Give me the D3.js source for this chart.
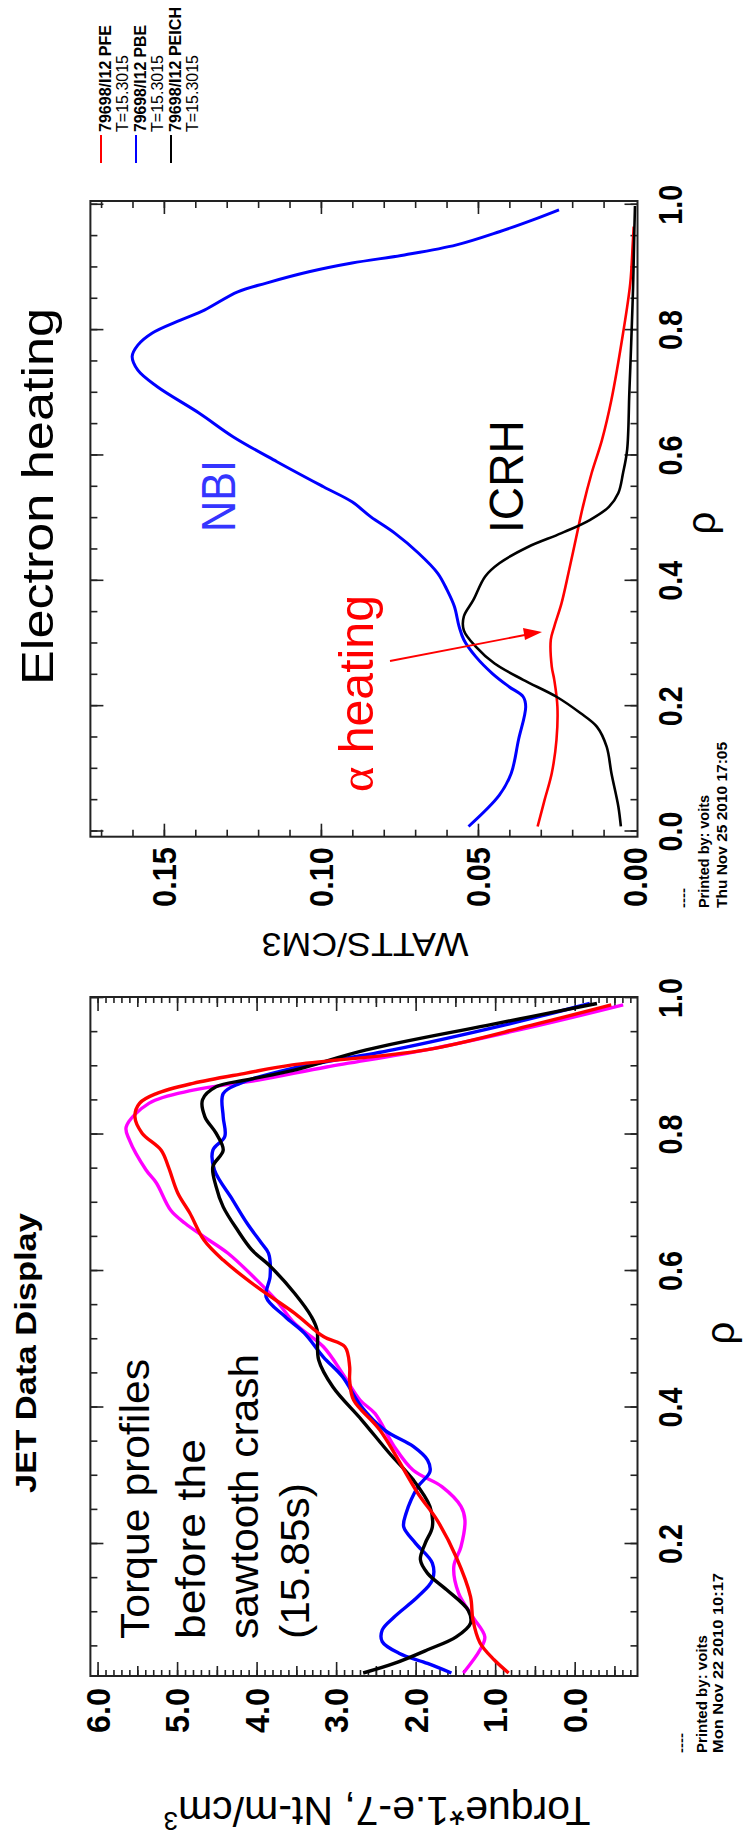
<!DOCTYPE html>
<html>
<head>
<meta charset="utf-8">
<script src="https://cdn.jsdelivr.net/npm/d3@7"></script>
<style>
  body { margin: 0; background: #fff; }
  svg { display: block; }
</style>
</head>
<body>
<svg id="fig" width="746" height="1843"></svg>
<script>
// --- electron heating panel (WATTS/CM3 vs rho) ---
const rhoPFE = [0.008,0.050,0.093,0.146,0.199,0.242,0.263,0.306,0.327,0.364,0.412,0.465,0.518,0.572,0.625,0.689,0.795,0.875,0.939,0.965];
const wattsPFE = [0.031,0.0288,0.0265,0.025,0.0247,0.0257,0.0265,0.0268,0.0257,0.0234,0.0212,0.0189,0.0166,0.0138,0.0105,0.0075,0.0038,0.0015,0.0007,0.0004];

const rhoPBE = [0.008,0.058,0.093,0.146,0.199,0.215,0.231,0.252,0.279,0.306,0.327,0.359,0.385,0.412,0.444,0.476,0.502,0.526,0.550,0.590,0.630,0.667,0.710,0.736,0.758,0.776,0.795,0.816,0.832,0.861,0.875,0.893,0.907,0.920,0.936,0.957,0.976,0.992];
const wattsPBE = [0.053,0.0432,0.0394,0.0371,0.0348,0.0356,0.0401,0.0454,0.0507,0.0545,0.056,0.0575,0.0598,0.0628,0.0689,0.0765,0.0841,0.0901,0.0992,0.114,0.128,0.1386,0.1522,0.1583,0.1601,0.1583,0.1538,0.1447,0.1371,0.1265,0.1174,0.1038,0.0901,0.0734,0.0568,0.0432,0.0325,0.0242];

const rhoPEICH = [0.008,0.040,0.093,0.135,0.167,0.189,0.215,0.242,0.268,0.295,0.321,0.343,0.369,0.407,0.428,0.454,0.476,0.497,0.518,0.540,0.572,0.609,0.70,0.78,0.87,0.96,0.998];
const wattsPEICH = [0.0045,0.0053,0.0075,0.009,0.0121,0.0174,0.025,0.0356,0.0447,0.0507,0.0545,0.0545,0.0515,0.0477,0.0432,0.0341,0.0234,0.0144,0.0083,0.0053,0.0038,0.0025,0.0018,0.0012,0.0006,0.0002,0.0];

// --- torque panel (Torque*1.e-7 vs rho) ---
const rhoRed = [0.011,0.030,0.055,0.089,0.123,0.181,0.235,0.274,0.367,0.411,0.440,0.460,0.489,0.504,0.538,0.577,0.616,0.645,0.685,0.714,0.753,0.777,0.802,0.826,0.846,0.860,0.875,0.890,0.902,0.924,0.960,0.990];
const torqueRed = [0.83,1.01,1.19,1.28,1.31,1.49,1.73,1.97,2.45,2.78,2.83,2.83,2.89,3.16,3.52,4.00,4.42,4.66,4.84,4.99,5.11,5.20,5.44,5.53,5.47,5.26,4.80,4.13,3.55,1.87,0.55,-0.46];

const rhoMagenta = [0.011,0.045,0.064,0.093,0.128,0.167,0.196,0.235,0.255,0.284,0.308,0.343,0.391,0.411,0.450,0.489,0.523,0.558,0.587,0.626,0.650,0.670,0.689,0.729,0.748,0.792,0.811,0.846,0.865,0.880,0.899,0.924,0.960,0.990];
const torqueMagenta = [1.40,1.19,1.13,1.28,1.46,1.52,1.43,1.38,1.43,1.67,2.03,2.27,2.51,2.70,2.92,3.16,3.52,3.76,4.00,4.36,4.66,4.90,5.08,5.26,5.39,5.60,5.64,5.35,4.80,3.96,3.12,1.87,0.45,-0.61];

const rhoBlack = [0.011,0.025,0.045,0.064,0.084,0.103,0.133,0.157,0.177,0.201,0.225,0.255,0.294,0.333,0.382,0.430,0.470,0.514,0.533,0.567,0.606,0.631,0.660,0.694,0.724,0.753,0.777,0.802,0.826,0.851,0.870,0.880,0.894,0.924,0.960,0.992];
const torqueBlack = [2.66,2.27,1.85,1.49,1.31,1.34,1.61,1.85,1.94,1.88,1.79,1.82,2.03,2.33,2.68,3.04,3.22,3.24,3.31,3.52,3.82,4.06,4.24,4.42,4.51,4.55,4.42,4.51,4.65,4.68,4.51,4.13,3.54,2.62,1.10,-0.28];

const rhoBlue = [0.011,0.025,0.040,0.057,0.074,0.093,0.123,0.147,0.172,0.201,0.225,0.245,0.284,0.306,0.323,0.343,0.367,0.401,0.445,0.474,0.509,0.533,0.562,0.592,0.626,0.641,0.670,0.704,0.748,0.777,0.797,0.826,0.860,0.875,0.897,0.924,0.960,0.992];
const torqueBlue = [1.55,1.85,2.21,2.42,2.42,2.27,1.97,1.79,1.79,2.00,2.15,2.12,1.97,1.82,1.85,2.03,2.39,2.68,2.92,3.16,3.40,3.64,3.88,3.83,3.85,3.94,4.12,4.30,4.53,4.55,4.40,4.42,4.42,4.21,3.55,2.29,0.90,-0.19];

// tick labels
const rhoTicksR = [0, 0.2, 0.4, 0.6, 0.8, 1.0];
const rhoTicksL = [0.2, 0.4, 0.6, 0.8, 1.0];
const wattsTicks = [0, 0.05, 0.10, 0.15];
const torqueTicks = [0, 1, 2, 3, 4, 5, 6];

const legendNames = ['79698/I12 PFE', '79698/I12 PBE', '79698/I12 PEICH'];
const legendColors = ['#ff0000', '#0000ff', '#000000'];

const font = 'Liberation Sans, Arial, Helvetica, sans-serif';

let svg = d3.select('#fig');
// the whole figure is a landscape plot turned a quarter turn anticlockwise
let g = svg.append('g').attr('transform', 'translate(0,1843) rotate(-90)');

function addText(parent, str, x, y, size, len, opts) {
  opts = opts || {};
  let t = parent.append('text')
    .attr('x', x)
    .attr('y', y)
    .attr('font-family', opts.family || font)
    .attr('font-size', size)
    .attr('font-weight', opts.weight || 'normal')
    .attr('fill', opts.fill || '#000')
    .attr('text-anchor', opts.anchor || 'start')
    .text(str);
  if (len) t.attr('textLength', len).attr('lengthAdjust', 'spacingAndGlyphs');
  return t;
}

function ticks(parent, axis, pos, values, size) {
  parent.append('g')
    .attr('transform', pos)
    .call(axis.tickValues(values).tickSize(-size).tickFormat(''))
    .call(s => s.select('.domain').remove())
    .selectAll('line').attr('stroke', '#222').attr('stroke-width', 1.6);
}

const curve = d3.curveCatmullRom.alpha(0.5);

// ---------- right panel: Electron heating ----------
let xR = d3.scaleLinear().domain([-0.0083, 1.006]).range([1006.3, 1642]);
let yR = d3.scaleLinear().domain([-0.0008, 0.1734]).range([637.5, 90.4]);

let right = g.append('g');
let rhoMinorR = d3.range(0, 1.0001, 0.05);
ticks(right, d3.axisBottom(xR), 'translate(0,637.5)', rhoMinorR, 7);
ticks(right, d3.axisBottom(xR), 'translate(0,637.5)', rhoTicksR, 13);
ticks(right, d3.axisTop(xR), 'translate(0,90.4)', rhoMinorR, 7);
ticks(right, d3.axisTop(xR), 'translate(0,90.4)', rhoTicksR, 13);
let wMinor = d3.range(0.01, 0.1701, 0.01);
ticks(right, d3.axisLeft(yR), 'translate(1006.3,0)', wMinor, 7);
ticks(right, d3.axisLeft(yR), 'translate(1006.3,0)', wattsTicks.slice(1), 13);
ticks(right, d3.axisRight(yR), 'translate(1642,0)', wMinor, 7);
ticks(right, d3.axisRight(yR), 'translate(1642,0)', wattsTicks.slice(1), 13);

right.append('rect')
  .attr('x', 1006.3).attr('y', 90.4)
  .attr('width', 1642 - 1006.3).attr('height', 637.5 - 90.4)
  .attr('fill', 'none').attr('stroke', '#222').attr('stroke-width', 2);

let lineR = d3.line().x(d => xR(d[0])).y(d => yR(d[1])).curve(curve);
[[rhoPFE, wattsPFE, '#ff0000', 2.6], [rhoPBE, wattsPBE, '#0000ff', 3], [rhoPEICH, wattsPEICH, '#000000', 2.6]]
  .forEach(s => {
    right.append('path')
      .datum(d3.zip(s[0], s[1]))
      .attr('d', lineR)
      .attr('fill', 'none')
      .attr('stroke', s[2])
      .attr('stroke-width', s[3]);
  });

rhoTicksR.forEach(v => addText(right, v.toFixed(1), xR(v), 682, 34, 40, {weight: 'bold', anchor: 'middle'}));
wattsTicks.forEach(v => addText(right, v.toFixed(2), 996, yR(v) + 12, 34, 60, {weight: 'bold', anchor: 'end'}));
addText(right, 'ρ', 1320, 715, 40, null, {anchor: 'middle'});

let wLab = right.append('g').attr('transform', 'translate(910,365) rotate(-90)');
addText(wLab, 'WATTS/CM3', 0, 0, 33, 207, {anchor: 'middle'});

addText(right, 'Electron heating', 1158, 53, 45, 377);
addText(right, 'NBI', 1311, 235, 48, 72, {fill: '#3535ff'});
addText(right, 'ICRH', 1310, 523, 48, 113);
let alpha = addText(right, '', 1051, 373, 48, 197, {fill: '#ff0000'});
alpha.append('tspan').attr('font-family', 'Liberation Serif, serif').text('α');
alpha.append('tspan').text(' heating');

// arrow from the alpha label to the red curve
right.append('line')
  .attr('x1', 1182).attr('y1', 390)
  .attr('x2', 1209).attr('y2', 530)
  .attr('stroke', '#ff0000').attr('stroke-width', 1.8);
right.append('path')
  .attr('d', 'M1211,542 L1203,525 L1215,523 Z')
  .attr('fill', '#ff0000');

// legend
legendNames.forEach((name, i) => {
  let y0 = 111 + i * 35;
  right.append('line')
    .attr('x1', 1680).attr('x2', 1708)
    .attr('y1', y0 - 10).attr('y2', y0 - 10)
    .attr('stroke', legendColors[i]).attr('stroke-width', 2);
  addText(right, name, 1711, y0, 17, i == 2 ? 125 : 107, {weight: 'bold'});
  addText(right, 'T=15.3015', 1711, y0 + 17, 17, 77);
});

addText(right, '----', 935, 688, 13, 20, {weight: 'bold'});
addText(right, 'Printed by: voits', 935, 709, 15, 113, {weight: 'bold'});
addText(right, 'Thu Nov 25 2010 17:05', 935, 727, 15, 166, {weight: 'bold'});

// ---------- left panel: Torque ----------
let xL = d3.scaleLinear().domain([0.0066, 1.0015]).range([167, 846]);
let yL = d3.scaleLinear().domain([-0.79, 6.09]).range([637.5, 90.4]);

let left = g.append('g');
let rhoMinorL = d3.range(0.05, 1.0001, 0.05);
ticks(left, d3.axisBottom(xL), 'translate(0,637.5)', rhoMinorL, 7);
ticks(left, d3.axisBottom(xL), 'translate(0,637.5)', rhoTicksL, 13);
ticks(left, d3.axisTop(xL), 'translate(0,90.4)', rhoMinorL, 7);
ticks(left, d3.axisTop(xL), 'translate(0,90.4)', rhoTicksL, 13);
let tMinor = d3.range(-0.7, 6.01, 0.1);
let tMid = d3.range(-0.5, 6.01, 1);
ticks(left, d3.axisLeft(yL), 'translate(167,0)', tMinor, 6);
ticks(left, d3.axisLeft(yL), 'translate(167,0)', tMid, 10);
ticks(left, d3.axisLeft(yL), 'translate(167,0)', torqueTicks, 14);
ticks(left, d3.axisRight(yL), 'translate(846,0)', tMinor, 6);
ticks(left, d3.axisRight(yL), 'translate(846,0)', tMid, 10);
ticks(left, d3.axisRight(yL), 'translate(846,0)', torqueTicks, 14);

left.append('rect')
  .attr('x', 167).attr('y', 90.4)
  .attr('width', 846 - 167).attr('height', 637.5 - 90.4)
  .attr('fill', 'none').attr('stroke', '#222').attr('stroke-width', 2);

let lineL = d3.line().x(d => xL(d[0])).y(d => yL(d[1])).curve(curve);
[[rhoMagenta, torqueMagenta, '#ff00ff'], [rhoBlue, torqueBlue, '#0000ff'], [rhoBlack, torqueBlack, '#000000'], [rhoRed, torqueRed, '#ff0000']]
  .forEach(s => {
    left.append('path')
      .datum(d3.zip(s[0], s[1]))
      .attr('d', lineL)
      .attr('fill', 'none')
      .attr('stroke', s[2])
      .attr('stroke-width', 3.4);
  });

rhoTicksL.forEach(v => addText(left, v.toFixed(1), xL(v), 682, 34, 40, {weight: 'bold', anchor: 'middle'}));
torqueTicks.forEach(v => addText(left, v.toFixed(1), 155, yL(v) + 12, 34, 45, {weight: 'bold', anchor: 'end'}));
addText(left, 'ρ', 510, 734, 40, null, {anchor: 'middle'});

let tLab = left.append('g').attr('transform', 'translate(46,377) rotate(-90)');
let tq = addText(tLab, 'Torque*1.e-7, Nt-m/cm', 0, 0, 41, null, {anchor: 'middle'});
tq.append('tspan').attr('dy', -15).attr('font-size', 26).text('3');

addText(left, 'JET Data Display', 350, 36, 30, 280, {weight: 'bold'});

let note = ['Torque profiles', 'before the', 'sawtooth crash', '(15.85s)'];
let noteY = [149, 205, 258, 309];
let noteLen = [280, 200, 285, 156];
note.forEach((s, i) => addText(left, s, 204, noteY[i], 40, noteLen[i]));

addText(left, '----', 90, 686, 13, 20, {weight: 'bold'});
addText(left, 'Printed by: voits', 90, 707, 15, 118, {weight: 'bold'});
addText(left, 'Mon Nov 22 2010 10:17', 90, 723, 15, 180, {weight: 'bold'});
</script>
</body>
</html>
